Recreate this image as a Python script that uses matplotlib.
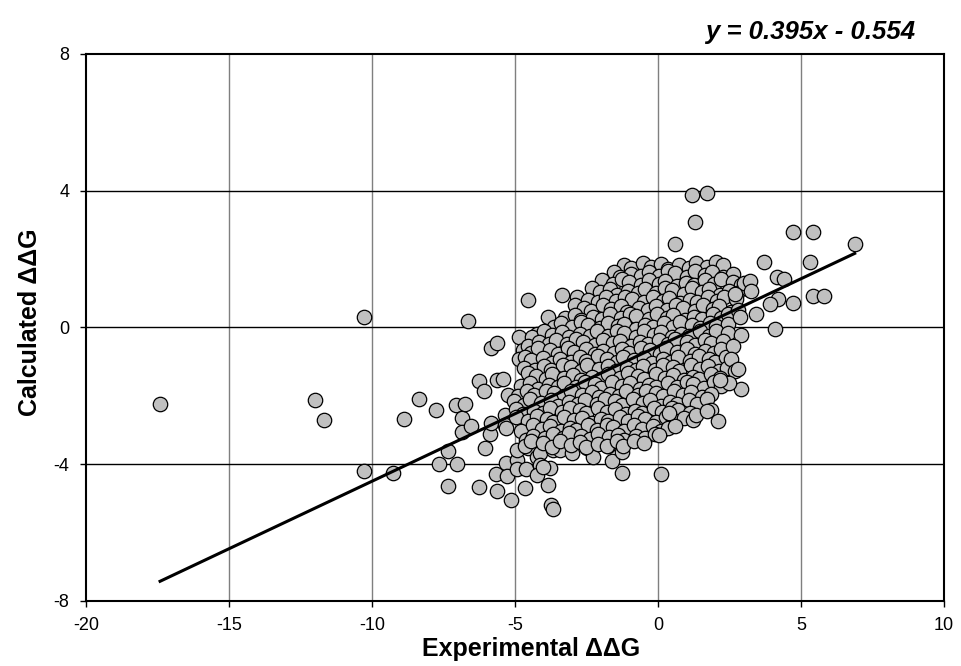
import matplotlib
matplotlib.use("Agg")
import matplotlib.pyplot as plt

plt.rcParams['font.family'] = ['Liberation Sans', 'DejaVu Sans']
plt.rcParams['axes.unicode_minus'] = False

# Least-squares fit shown on the chart
slope = 0.395
intercept = -0.554

# Isolated mutants left of / below the main cloud (experimental, calculated)
left_tail = [
    (-17.41, -2.24), (-11.99, -2.13), (-11.69, -2.72), (-10.28, 0.30),
    (-10.29, -4.20), (-9.28, -4.27), (-8.88, -2.69), (-8.36, -2.10),
    (-7.76, -2.42), (-7.65, -4.00), (-7.35, -3.61), (-7.35, -4.64),
    (-7.06, -2.27), (-7.04, -4.00), (-6.86, -2.64), (-6.86, -3.05),
    (-6.75, -2.24), (-6.65, 0.18), (-6.55, -2.89), (-6.26, -4.66),
    (-6.26, -1.56), (-6.07, -1.86), (-6.05, -3.54), (-5.87, -3.13),
    (-5.84, -2.81), (-5.85, -0.61), (-5.64, -0.47), (-5.64, -1.54),
    (-5.64, -4.78), (-5.66, -4.30), (-5.41, -1.52), (-5.35, -2.56),
    (-5.35, -2.86), (-5.31, -2.95), (-5.33, -3.98), (-5.29, -4.35),
    (-5.26, -1.98), (-5.15, -5.05), (-4.65, -4.71), (-4.94, -3.88),
    (-4.94, -4.14), (-4.63, -4.14), (-4.53, 0.80), (-3.85, -4.61),
    (-3.75, -5.20), (-3.68, -5.32), (-1.27, -4.25), (0.09, -4.29),
    (-4.94, -3.59), (-4.53, -3.54), (-4.24, -3.78), (-4.13, -3.68),
    (-4.13, -4.03), (-3.78, -4.12), (-4.24, -4.32), (-4.01, -4.08),
    (-3.66, -3.59), (-3.43, -3.59), (-3.01, -3.68), (-2.49, -3.54),
    (-2.26, -3.78), (-1.62, -3.91), (-1.27, -3.64), (-1.74, -3.47),
    (-4.85, -0.27), (-4.22, -0.20), (-4.73, -0.66), (-4.85, -0.94),
    (-4.38, -0.86), (-3.86, 0.31), (-3.37, 0.94), (-2.82, 0.88),
]

# Isolated mutants right of / above the main cloud
right_tail = [
    (0.59, 2.44), (1.18, 3.87), (1.72, 3.93), (1.29, 3.07),
    (3.71, 1.91), (4.71, 2.79), (5.41, 2.79), (6.88, 2.44),
    (5.31, 1.91), (4.16, 1.48), (4.41, 1.42), (5.41, 0.92),
    (5.80, 0.92), (4.72, 0.72), (4.20, 0.84), (3.92, 0.68),
    (4.09, -0.05), (3.42, 0.39), (3.00, 1.29), (3.22, 1.36),
    (3.27, 1.07), (2.69, 0.97), (2.80, 0.51), (2.87, 0.31),
    (2.90, -0.23), (2.63, -0.55), (2.55, -0.94), (2.69, -1.27),
    (2.81, -1.23), (2.90, -1.80), (2.49, -1.62), (2.17, -1.54),
    (1.85, -2.42), (2.11, -2.74), (1.21, -2.71), (0.59, -2.89),
    (0.03, -3.15), (0.40, -2.52), (1.33, -2.56), (1.72, -2.44),
]

# Dense central cloud, written band by band from top to bottom
cloud_x = [
    -1.18, -0.94, -0.52, -0.23, 0.12, 0.34, 0.74, 1.07, 1.34, 1.72, 2.03, 2.27,
    -1.55, -1.33, -0.93, -0.60, -0.33, 0.05, 0.36, 0.60, 1.02, 1.31, 1.66, 1.88, 2.28, 2.61,
    -1.95, -1.57, -1.26, -1.02, -0.60, -0.31, 0.04, 0.26, 0.66, 0.99, 1.26, 1.64, 1.95, 2.19,
    2.61, 2.90,
    -2.30, -2.01, -1.66, -1.44, -1.04, -0.71, -0.44, -0.06, 0.25, 0.49, 0.91, 1.20, 1.55, 1.77,
    2.17, 2.50, 2.77, 3.15,
    -2.43, -2.10, -1.83, -1.45, -1.14, -0.90, -0.48, -0.19, 0.16, 0.38, 0.78, 1.11, 1.38, 1.76,
    2.07, 2.31, 2.73,
    -2.90, -2.59, -2.35, -1.93, -1.64, -1.29, -1.07, -0.67, -0.34, -0.07, 0.31, 0.62, 0.86, 1.28,
    1.57, 1.92, 2.14, 2.54,
    -3.25, -2.90, -2.68, -2.28, -1.95, -1.68, -1.30, -0.99, -0.75, -0.33, -0.04, 0.31, 0.53, 0.93,
    1.26, 1.53, 1.91, 2.22, 2.46,
    -3.65, -3.38, -3.00, -2.69, -2.45, -2.03, -1.74, -1.39, -1.17, -0.77, -0.44, -0.17, 0.21, 0.52,
    0.76, 1.18, 1.47, 1.82, 2.04, 2.44,
    -4.40, -3.98, -3.69, -3.34, -3.12, -2.72, -2.39, -2.12, -1.74, -1.43, -1.19, -0.77, -0.48, -0.13,
    0.09, 0.49, 0.82, 1.09, 1.47, 1.78, 2.02, 2.44,
    -4.55, -4.15, -3.82, -3.55, -3.17, -2.86, -2.62, -2.20, -1.91, -1.56, -1.34, -0.94, -0.61, -0.34,
    0.04, 0.35, 0.59, 1.01, 1.30, 1.65, 1.87, 2.27,
    -4.45, -4.21, -3.79, -3.50, -3.15, -2.93, -2.53, -2.20, -1.93, -1.55, -1.24, -1.00, -0.58, -0.29,
    0.06, 0.28, 0.68, 1.01, 1.28, 1.66, 1.97, 2.21,
    -4.65, -4.43, -4.03, -3.70, -3.43, -3.05, -2.74, -2.50, -2.08, -1.79, -1.44, -1.22, -0.82, -0.49,
    -0.22, 0.16, 0.47, 0.71, 1.13, 1.42, 1.77, 1.99, 2.39,
    -4.68, -4.30, -3.99, -3.75, -3.33, -3.04, -2.69, -2.47, -2.07, -1.74, -1.47, -1.09, -0.78, -0.54,
    -0.12, 0.17, 0.52, 0.74, 1.14, 1.47, 1.74, 2.12, 2.43,
    -4.55, -4.26, -3.91, -3.69, -3.29, -2.96, -2.69, -2.31, -2.00, -1.76, -1.34, -1.05, -0.70, -0.48,
    -0.08, 0.25, 0.52, 0.90, 1.21, 1.45, 1.87, 2.16,
    -4.80, -4.47, -4.20, -3.82, -3.51, -3.27, -2.85, -2.56, -2.21, -1.99, -1.59, -1.26, -0.99, -0.61,
    -0.30, -0.06, 0.36, 0.65, 1.00, 1.22, 1.62, 1.95, 2.22,
    -4.88, -4.57, -4.33, -3.91, -3.62, -3.27, -3.05, -2.65, -2.32, -2.05, -1.67, -1.36, -1.12, -0.70,
    -0.41, -0.06, 0.16, 0.56, 0.89, 1.16, 1.54, 1.85,
    -5.05, -4.70, -4.48, -4.08, -3.75, -3.48, -3.10, -2.79, -2.55, -2.13, -1.84, -1.49, -1.27, -0.87,
    -0.54, -0.27, 0.11, 0.42, 0.66, 1.08, 1.37, 1.72,
    -4.98, -4.71, -4.33, -4.02, -3.78, -3.36, -3.07, -2.72, -2.50, -2.10, -1.77, -1.50, -1.12, -0.81,
    -0.57, -0.15, 0.14, 0.49, 0.71, 1.11,
    -4.95, -4.53, -4.24, -3.89, -3.67, -3.27, -2.94, -2.67, -2.29, -1.98, -1.74, -1.32, -1.03, -0.68,
    -0.46, -0.06, 0.27, 0.54, 0.92,
    -4.78, -4.38, -4.05, -3.78, -3.40, -3.09, -2.85, -2.43, -2.14, -1.79, -1.57, -1.17, -0.84, -0.57,
    -0.19, 0.12, 0.36,
    -4.62, -4.38, -3.96, -3.67, -3.32, -3.10, -2.70, -2.37, -2.10, -1.72, -1.41, -1.17, -0.75, -0.46,
    -0.11,
    -4.65, -4.43, -4.03, -3.70, -3.43, -3.05, -2.74, -2.50, -2.08, -1.79, -1.44, -1.22, -0.82, -0.49,
]
cloud_y = [
    1.83, 1.73, 1.89, 1.78, 1.86, 1.71, 1.81, 1.75, 1.88, 1.76, 1.90, 1.83,
    1.61, 1.46, 1.56, 1.50, 1.63, 1.51, 1.65, 1.58, 1.48, 1.64, 1.53, 1.61, 1.46, 1.56,
    1.38, 1.26, 1.40, 1.33, 1.23, 1.39, 1.28, 1.36, 1.21, 1.31, 1.25, 1.38, 1.26, 1.40,
    1.33, 1.23,
    1.14, 1.03, 1.11, 0.96, 1.06, 1.00, 1.13, 1.01, 1.15, 1.08, 0.98, 1.14, 1.03, 1.11,
    0.96, 1.06, 1.00, 1.13,
    0.81, 0.75, 0.88, 0.76, 0.90, 0.83, 0.73, 0.89, 0.78, 0.86, 0.71, 0.81, 0.75, 0.88,
    0.76, 0.90, 0.83,
    0.65, 0.58, 0.48, 0.64, 0.53, 0.61, 0.46, 0.56, 0.50, 0.63, 0.51, 0.65, 0.58, 0.48,
    0.64, 0.53, 0.61, 0.46,
    0.28, 0.36, 0.21, 0.31, 0.25, 0.38, 0.26, 0.40, 0.33, 0.23, 0.39, 0.28, 0.36, 0.21,
    0.31, 0.25, 0.38, 0.26, 0.40,
    0.00, 0.13, 0.01, 0.15, 0.08, -0.02, 0.14, 0.03, 0.11, -0.04, 0.06, 0.00, 0.13, 0.01,
    0.15, 0.08, -0.02, 0.14, 0.03, 0.11,
    -0.27, -0.11, -0.22, -0.14, -0.29, -0.19, -0.25, -0.12, -0.24, -0.10, -0.17, -0.27, -0.11, -0.22,
    -0.14, -0.29, -0.19, -0.25, -0.12, -0.24, -0.10, -0.17,
    -0.54, -0.44, -0.50, -0.37, -0.49, -0.35, -0.42, -0.52, -0.36, -0.47, -0.39, -0.54, -0.44, -0.50,
    -0.37, -0.49, -0.35, -0.42, -0.52, -0.36, -0.47, -0.39,
    -0.74, -0.60, -0.67, -0.77, -0.61, -0.72, -0.64, -0.79, -0.69, -0.75, -0.62, -0.74, -0.60, -0.67,
    -0.77, -0.61, -0.72, -0.64, -0.79, -0.69, -0.75, -0.62,
    -0.86, -0.97, -0.89, -1.04, -0.94, -1.00, -0.87, -0.99, -0.85, -0.92, -1.02, -0.86, -0.97, -0.89,
    -1.04, -0.94, -1.00, -0.87, -0.99, -0.85, -0.92, -1.02, -0.86,
    -1.19, -1.25, -1.12, -1.24, -1.10, -1.17, -1.27, -1.11, -1.22, -1.14, -1.29, -1.19, -1.25, -1.12,
    -1.24, -1.10, -1.17, -1.27, -1.11, -1.22, -1.14, -1.29, -1.19,
    -1.35, -1.42, -1.52, -1.36, -1.47, -1.39, -1.54, -1.44, -1.50, -1.37, -1.49, -1.35, -1.42, -1.52,
    -1.36, -1.47, -1.39, -1.54, -1.44, -1.50, -1.37, -1.49,
    -1.72, -1.64, -1.79, -1.69, -1.75, -1.62, -1.74, -1.60, -1.67, -1.77, -1.61, -1.72, -1.64, -1.79,
    -1.69, -1.75, -1.62, -1.74, -1.60, -1.67, -1.77, -1.61, -1.72,
    -2.00, -1.87, -1.99, -1.85, -1.92, -2.02, -1.86, -1.97, -1.89, -2.04, -1.94, -2.00, -1.87, -1.99,
    -1.85, -1.92, -2.02, -1.86, -1.97, -1.89, -2.04, -1.94,
    -2.17, -2.27, -2.11, -2.22, -2.14, -2.29, -2.19, -2.25, -2.12, -2.24, -2.10, -2.17, -2.27, -2.11,
    -2.22, -2.14, -2.29, -2.19, -2.25, -2.12, -2.24, -2.10,
    -2.39, -2.54, -2.44, -2.50, -2.37, -2.49, -2.35, -2.42, -2.52, -2.36, -2.47, -2.39, -2.54, -2.44,
    -2.50, -2.37, -2.49, -2.35, -2.42, -2.52,
    -2.62, -2.74, -2.60, -2.67, -2.77, -2.61, -2.72, -2.64, -2.79, -2.69, -2.75, -2.62, -2.74, -2.60,
    -2.67, -2.77, -2.61, -2.72, -2.64,
    -3.02, -2.86, -2.97, -2.89, -3.04, -2.94, -3.00, -2.87, -2.99, -2.85, -2.92, -3.02, -2.86, -2.97,
    -2.89, -3.04, -2.94,
    -3.29, -3.19, -3.25, -3.12, -3.24, -3.10, -3.17, -3.27, -3.11, -3.22, -3.14, -3.29, -3.19, -3.25,
    -3.12,
    -3.46, -3.32, -3.39, -3.49, -3.33, -3.44, -3.36, -3.51, -3.41, -3.47, -3.34, -3.46, -3.32, -3.39,
]

exp_ddg = [p[0] for p in left_tail] + cloud_x + [p[0] for p in right_tail]
calc_ddg = [p[1] for p in left_tail] + cloud_y + [p[1] for p in right_tail]

fig = plt.figure(figsize=(9.62, 6.66), dpi=100)
ax = fig.add_axes([0.0894, 0.098, 0.8918, 0.821])

ax.set_xlim(-20, 10)
ax.set_ylim(-8, 8)
ax.set_xticks([-20, -15, -10, -5, 0, 5, 10])
ax.set_yticks([-8, -4, 0, 4, 8])

# grid: grey verticals, black horizontals
for xv in [-15, -10, -5, 0, 5]:
    ax.axvline(xv, color='#7f7f7f', lw=1.0, zorder=1)
for yv in [-4, 0, 4]:
    ax.axhline(yv, color='black', lw=1.0, zorder=1)

ax.scatter(exp_ddg, calc_ddg, s=108, c='#c0c0c0', edgecolors='black',
           linewidths=0.9, zorder=2)

x_fit = [min(exp_ddg), max(exp_ddg)]
y_fit = [slope * v + intercept for v in x_fit]
ax.plot(x_fit, y_fit, color='black', lw=2.2, zorder=3)

for sp in ax.spines.values():
    sp.set_linewidth(1.5)
    sp.set_color('black')
ax.tick_params(direction='out', length=4, width=1, labelsize=13, pad=8)

fig.text(0.552, 0.025, 'Experimental ΔΔG', ha='center', va='center',
         fontsize=18, fontweight='bold')
fig.text(0.031, 0.516, 'Calculated ΔΔG', ha='center', va='center',
         fontsize=18, fontweight='bold', rotation=90)
fig.text(0.951, 0.952, 'y = 0.395x - 0.554', ha='right', va='center',
         fontsize=18.5, fontweight='bold', style='italic')

fig.savefig('out.png', dpi=100)
